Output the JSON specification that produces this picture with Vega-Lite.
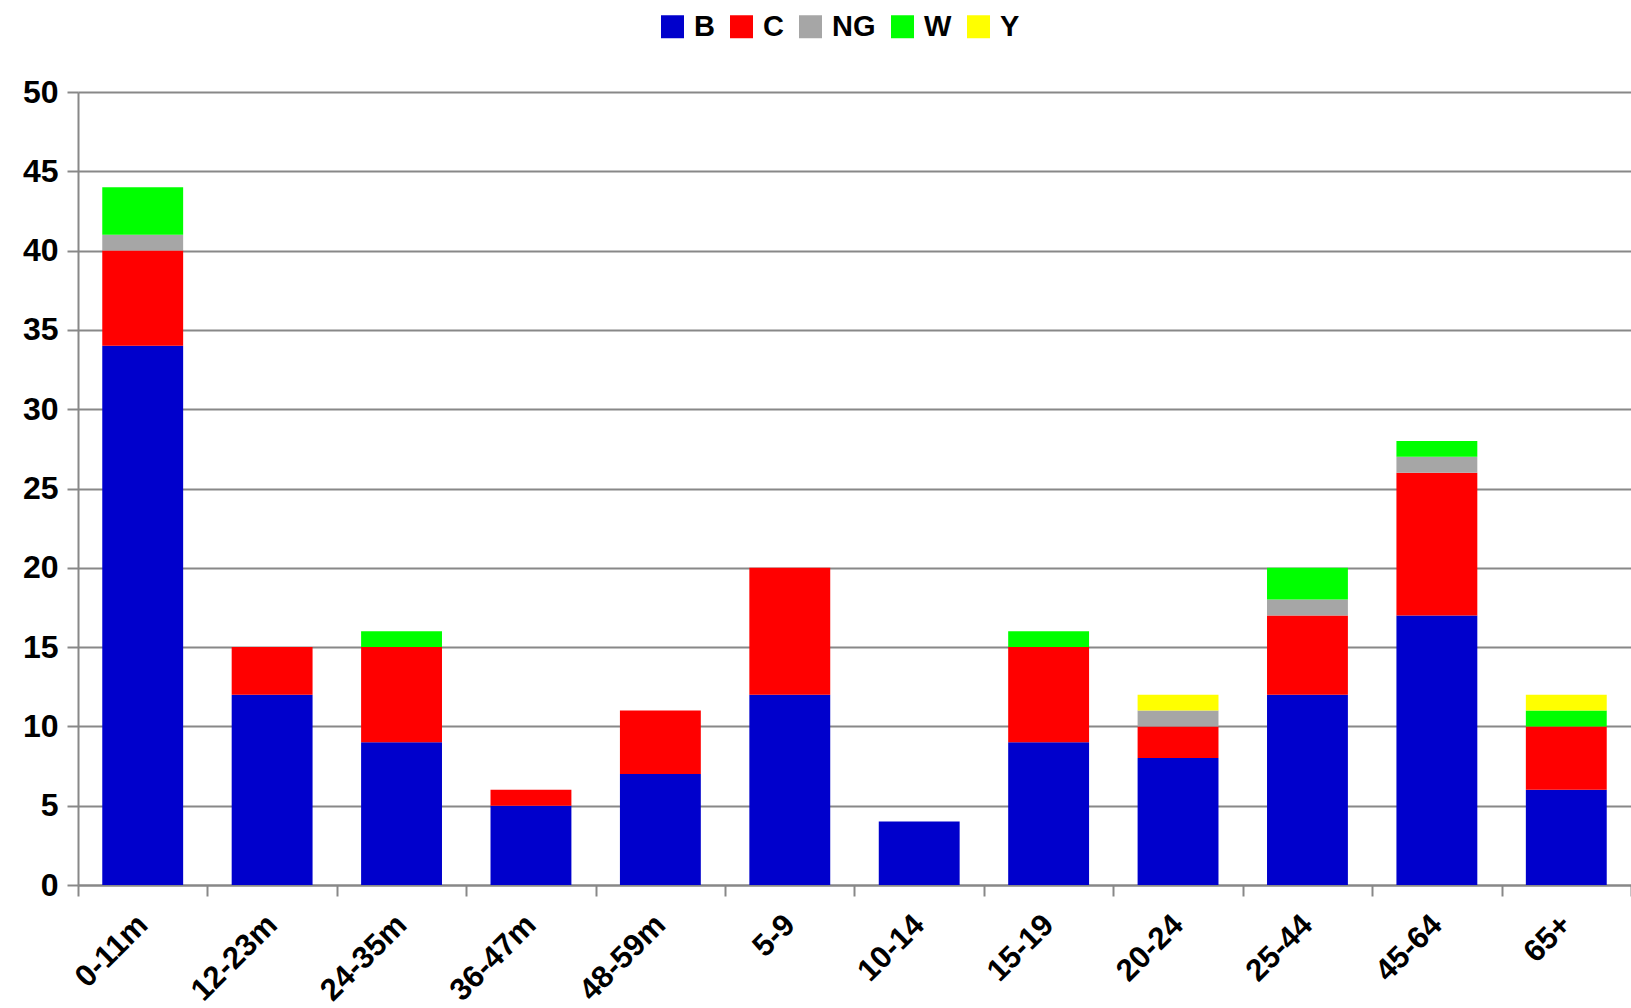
{
  "$schema": "https://vega.github.io/schema/vega-lite/v6.json",
  "autosize": "none",
  "width": 1553,
  "height": 793,
  "padding": {"left": 78, "top": 92, "right": 0, "bottom": 123},
  "background": "white",
  "config": {
    "view": {"stroke": null},
    "font": "Liberation Sans"
  },
  "data": {
    "values": [
      {"age": "0-11m", "type": "B", "n": 34},
      {"age": "0-11m", "type": "C", "n": 6},
      {"age": "0-11m", "type": "NG", "n": 1},
      {"age": "0-11m", "type": "W", "n": 3},
      {"age": "12-23m", "type": "B", "n": 12},
      {"age": "12-23m", "type": "C", "n": 3},
      {"age": "24-35m", "type": "B", "n": 9},
      {"age": "24-35m", "type": "C", "n": 6},
      {"age": "24-35m", "type": "W", "n": 1},
      {"age": "36-47m", "type": "B", "n": 5},
      {"age": "36-47m", "type": "C", "n": 1},
      {"age": "48-59m", "type": "B", "n": 7},
      {"age": "48-59m", "type": "C", "n": 4},
      {"age": "5-9", "type": "B", "n": 12},
      {"age": "5-9", "type": "C", "n": 8},
      {"age": "10-14", "type": "B", "n": 4},
      {"age": "15-19", "type": "B", "n": 9},
      {"age": "15-19", "type": "C", "n": 6},
      {"age": "15-19", "type": "W", "n": 1},
      {"age": "20-24", "type": "B", "n": 8},
      {"age": "20-24", "type": "C", "n": 2},
      {"age": "20-24", "type": "NG", "n": 1},
      {"age": "20-24", "type": "Y", "n": 1},
      {"age": "25-44", "type": "B", "n": 12},
      {"age": "25-44", "type": "C", "n": 5},
      {"age": "25-44", "type": "NG", "n": 1},
      {"age": "25-44", "type": "W", "n": 2},
      {"age": "45-64", "type": "B", "n": 17},
      {"age": "45-64", "type": "C", "n": 9},
      {"age": "45-64", "type": "NG", "n": 1},
      {"age": "45-64", "type": "W", "n": 1},
      {"age": "65+", "type": "B", "n": 6},
      {"age": "65+", "type": "C", "n": 4},
      {"age": "65+", "type": "W", "n": 1},
      {"age": "65+", "type": "Y", "n": 1}
    ]
  },
  "mark": {"type": "bar", "width": {"band": 0.625}},
  "encoding": {
    "x": {
      "field": "age",
      "type": "nominal",
      "sort": ["0-11m", "12-23m", "24-35m", "36-47m", "48-59m", "5-9", "10-14", "15-19", "20-24", "25-44", "45-64", "65+"],
      "scale": {"paddingInner": 0, "paddingOuter": 0},
      "axis": {
        "title": null,
        "labelAngle": -45,
        "labelAlign": "right",
        "labelBaseline": "middle",
        "labelFont": "Liberation Sans",
        "labelFontSize": 31,
        "labelFontWeight": "bold",
        "labelColor": "black",
        "labelPadding": 24,
        "tickBand": "extent",
        "tickSize": 11,
        "tickWidth": 2,
        "tickColor": "#888888",
        "domainColor": "#888888",
        "domainWidth": 2,
        "grid": false
      }
    },
    "y": {
      "field": "n",
      "type": "quantitative",
      "aggregate": "sum",
      "stack": "zero",
      "scale": {"domain": [0, 50], "nice": false},
      "axis": {
        "title": null,
        "values": [0, 5, 10, 15, 20, 25, 30, 35, 40, 45, 50],
        "labelFont": "Liberation Sans",
        "labelFontSize": 32,
        "labelFontWeight": "bold",
        "labelColor": "black",
        "labelPadding": 9,
        "tickSize": 11,
        "tickWidth": 2,
        "tickColor": "#888888",
        "domainColor": "#888888",
        "domainWidth": 2,
        "grid": true,
        "gridColor": "#888888",
        "gridWidth": 2
      }
    },
    "color": {
      "field": "type",
      "type": "nominal",
      "scale": {
        "domain": ["B", "C", "NG", "W", "Y"],
        "range": ["#0000CC", "#FF0000", "#A6A6A6", "#00FF00", "#FFFF00"]
      },
      "legend": {
        "title": null,
        "orient": "none",
        "direction": "horizontal",
        "legendX": 580,
        "legendY": -80,
        "padding": 0,
        "symbolType": "square",
        "symbolSize": 529,
        "symbolStrokeWidth": 0,
        "symbolOpacity": 1,
        "labelFont": "Liberation Sans",
        "labelFontSize": 29,
        "labelFontWeight": "bold",
        "labelColor": "black",
        "labelOffset": 7,
        "columnPadding": 12
      }
    },
    "order": {"field": "type", "sort": "ascending"}
  }
}
